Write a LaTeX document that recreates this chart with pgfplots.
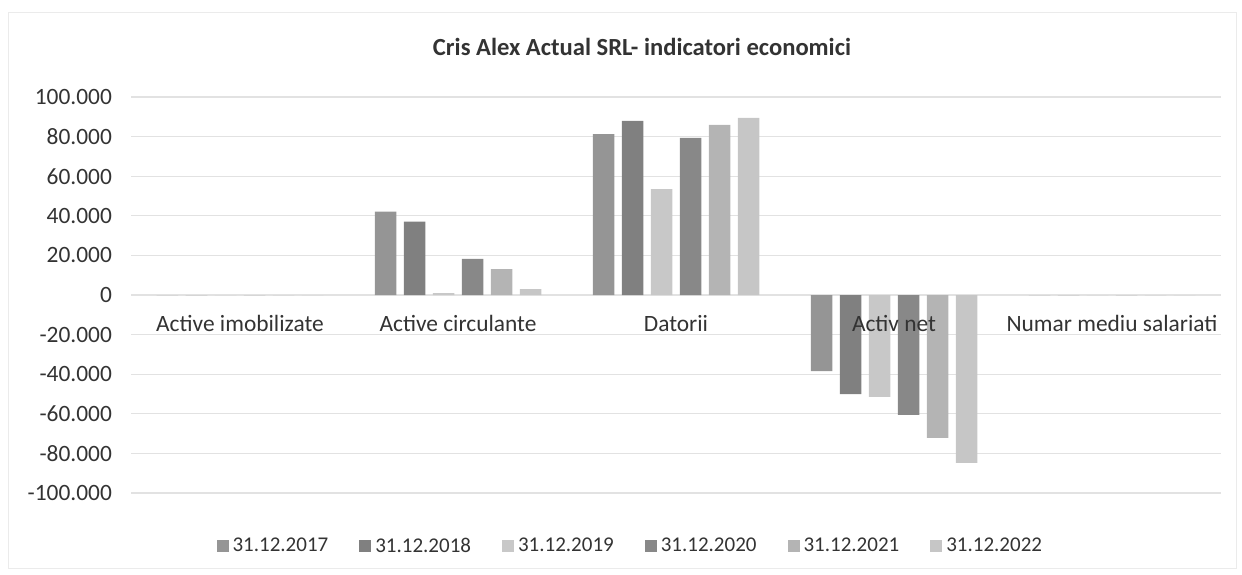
\documentclass[border=0pt]{standalone}
\usepackage{fontspec}
\setmainfont{Carlito}
\usepackage{pgfplots}
\pgfplotsset{compat=1.18}
\definecolor{cA}{HTML}{959595}
\definecolor{cB}{HTML}{808080}
\definecolor{cC}{HTML}{C8C8C8}
\definecolor{cD}{HTML}{888888}
\definecolor{cE}{HTML}{B4B4B4}
\definecolor{cF}{HTML}{C6C6C6}
\definecolor{gridc}{HTML}{E2E2E2}
\pgfplotsset{common/.style={
  at={(65.5pt,-48.5pt)}, anchor=north west,
  scale only axis, width=545pt, height=198pt,
  xmin=-0.5, xmax=4.5, ymin=-100000, ymax=100000,
  scaled y ticks=false,
  major tick length=0pt,
}}
\begin{document}
\begin{tikzpicture}
\path[use as bounding box] (0,0) rectangle (621pt,-287pt);
\draw[black!8] (4pt,-6pt) rectangle (618pt,-284pt);
\node[font=\fontsize{12.3pt}{14pt}\selectfont\bfseries, text=black!80] at (321pt,-23.5pt) {Cris Alex Actual SRL- indicatori economici};
\begin{axis}[
  common,
  axis line style={draw=none},
  xtick=\empty,
  ytick={-100000,-80000,-60000,-40000,-20000,0,20000,40000,60000,80000,100000},
  yticklabels={-100.000,-80.000,-60.000,-40.000,-20.000,0,20.000,40.000,60.000,80.000,100.000},
  y tick label style={font=\fontsize{11.7pt}{14pt}\selectfont, text=black!80, xshift=-6pt},
  ymajorgrids, grid style={draw=gridc, line width=0.6pt},
  ybar, bar width=10.75pt,
  legend style={at={(0.459,-0.135)}, anchor=center, draw=none, legend columns=6,
    font=\fontsize{10.5pt}{12pt}\selectfont, text=black!80,
    /tikz/every even column/.append style={column sep=13.5pt}},
  legend image code/.code={\fill[#1] (0pt,-3pt) rectangle (6pt,3pt);},
]
\addplot[fill=cA, draw=none, bar shift=-36.25pt] coordinates {(0,0) (1,42100) (2,81300) (3,-38400) (4,2)};
\addplot[fill=cB, draw=none, bar shift=-21.75pt] coordinates {(0,0) (1,37000) (2,87900) (3,-50000) (4,2)};
\addplot[fill=cC, draw=none, bar shift=-7.25pt] coordinates {(0,0) (1,1000) (2,53500) (3,-51500) (4,2)};
\addplot[fill=cD, draw=none, bar shift=7.25pt] coordinates {(0,0) (1,18200) (2,79300) (3,-60600) (4,2)};
\addplot[fill=cE, draw=none, bar shift=21.75pt] coordinates {(0,0) (1,13100) (2,85900) (3,-72200) (4,2)};
\addplot[fill=cF, draw=none, bar shift=36.25pt] coordinates {(0,0) (1,3000) (2,89400) (3,-84800) (4,2)};
\legend{31.12.2017, 31.12.2018, 31.12.2019, 31.12.2020, 31.12.2021, 31.12.2022}
\end{axis}
\begin{axis}[
  common,
  axis x line=middle, axis y line=none,
  x axis line style={-, draw=none},
  hide obscured x ticks=false,
  ytick=\empty,
  xtick={0,1,2,3,4},
  xticklabels={Active imobilizate, Active circulante, Datorii, Activ net, Numar mediu salariati},
  x tick label style={font=\fontsize{11.7pt}{14pt}\selectfont, text=black!80, anchor=north, yshift=-6.5pt},
]
\end{axis}
\end{tikzpicture}
\end{document}
